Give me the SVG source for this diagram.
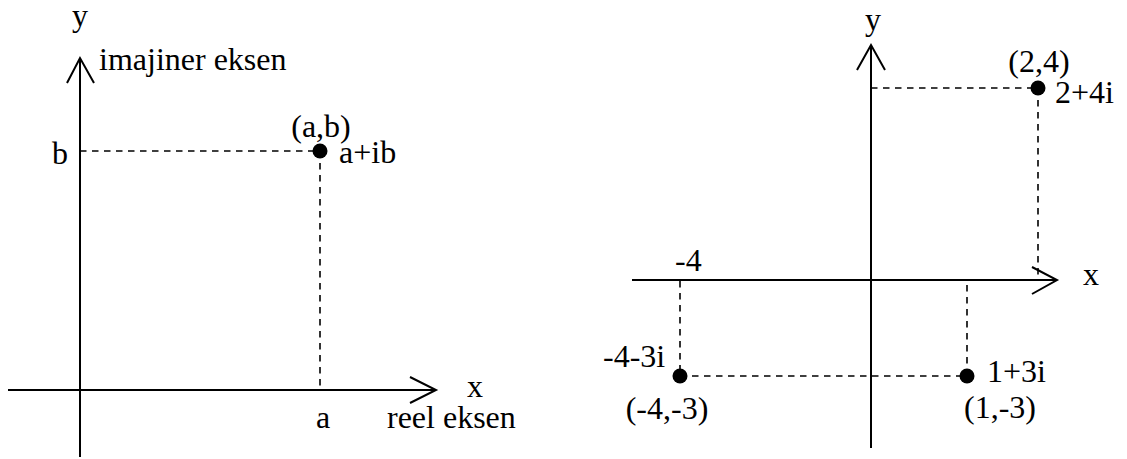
<svg xmlns="http://www.w3.org/2000/svg" width="1127" height="459" viewBox="0 0 1127 459">
<style>
.ax{stroke:#000;stroke-width:2;fill:none}
.ah{stroke:#000;stroke-width:2;fill:none;stroke-linejoin:miter}
.dash{stroke:#000;stroke-width:1.6;fill:none;stroke-dasharray:6.5 5.5}
.pt{fill:#000}
text{font-family:"Liberation Serif","Times New Roman",serif;font-size:32px;fill:#000}
</style>
<rect width="1127" height="459" fill="#fff"/>
<g id="left-plane">
  <g id="connectors-left">
    <line class="ax" x1="80" y1="58" x2="80" y2="457"/>
    <polyline class="ah" points="67,83 80,58 94,83"/>
    <line class="ax" x1="8" y1="390" x2="436" y2="390"/>
    <polyline class="ah" points="410,377 436,390 410,403"/>
    <line class="dash" x1="80" y1="151" x2="320" y2="151"/>
    <line class="dash" x1="320" y1="151" x2="320" y2="390"/>
  </g>
  <g id="point-ab">
    <circle class="pt" cx="320" cy="151" r="7.5"/>
    <text x="321" y="137" text-anchor="middle">(a,b)</text>
    <text x="339" y="163">a+ib</text>
  </g>
  <g id="labels-left">
    <text x="80" y="26" text-anchor="middle">y</text>
    <text x="99" y="70">imajiner eksen</text>
    <text x="52" y="164">b</text>
    <text x="467" y="397">x</text>
    <text x="323" y="428" text-anchor="middle">a</text>
    <text x="387" y="428">reel eksen</text>
  </g>
</g>
<g id="right-plane">
  <g id="connectors-right">
    <line class="ax" x1="871" y1="45" x2="871" y2="448"/>
    <polyline class="ah" points="857,70 871,45 885,70"/>
    <line class="ax" x1="632" y1="280" x2="1057" y2="280"/>
    <polyline class="ah" points="1032,267 1057,280 1032,294"/>
    <line class="dash" x1="871" y1="88" x2="1038" y2="88"/>
    <line class="dash" x1="1038" y1="88" x2="1038" y2="280"/>
    <line class="dash" x1="680" y1="281" x2="680" y2="376"/>
    <line class="dash" x1="680" y1="376" x2="967" y2="376"/>
    <line class="dash" x1="967" y1="285" x2="967" y2="376"/>
  </g>
  <g id="point-2-4">
    <circle class="pt" cx="1038" cy="88" r="7.5"/>
    <text x="1039" y="72" text-anchor="middle">(2,4)</text>
    <text x="1055" y="103">2+4i</text>
  </g>
  <g id="point-m4-m3">
    <circle class="pt" cx="680" cy="376" r="7.5"/>
    <text x="603" y="367">-4-3i</text>
    <text x="667" y="419" text-anchor="middle">(-4,-3)</text>
  </g>
  <g id="point-1-m3">
    <circle class="pt" cx="967" cy="376" r="7.5"/>
    <text x="987" y="382">1+3i</text>
    <text x="1000" y="418" text-anchor="middle">(1,-3)</text>
  </g>
  <g id="labels-right">
    <text x="873" y="30" text-anchor="middle">y</text>
    <text x="1083" y="285">x</text>
    <text x="675" y="271">-4</text>
  </g>
</g>
</svg>
